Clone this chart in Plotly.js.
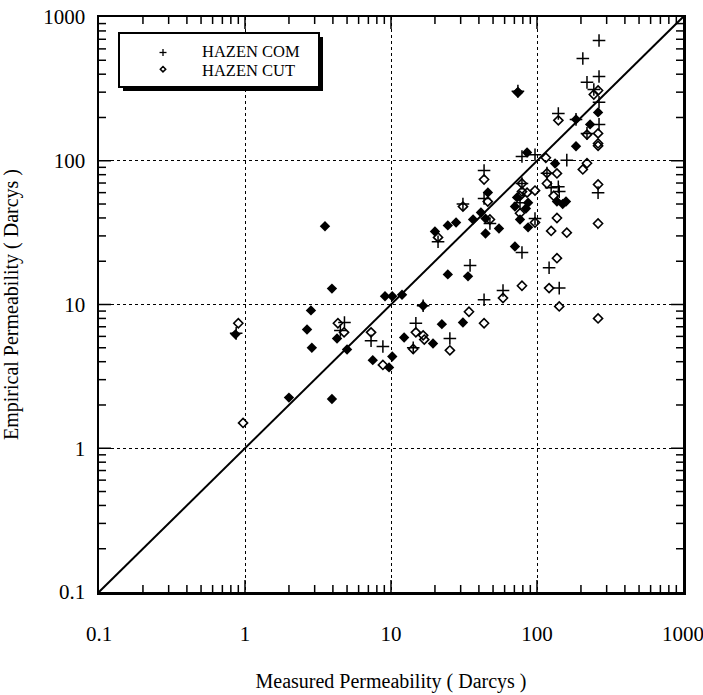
<!DOCTYPE html>
<html>
<head>
<meta charset="utf-8">
<script src="https://cdn.plot.ly/plotly-3.0.1.min.js"></script>
<style>html,body{margin:0;padding:0;background:#fff;}#chart{width:703px;height:695px;}</style>
</head>
<body>
<div id="chart"></div>
<script>
// Series names (legend)
const seriesNames = ['HAZEN COM', 'HAZEN CUT'];

// HAZEN COM (+)
const comX = [0.87, 4.8, 4.5, 7.3, 8.8, 14.8, 14.2, 25.3, 16.6, 43.4, 58.5, 34.8, 78.9, 121, 142,
  21, 31.1, 43.4, 47.6, 96.9, 76.5, 78.9, 43.4, 78.9, 96.9, 160, 117, 125, 140, 142, 262,
  74, 140, 185, 266, 220, 266, 245, 220, 266, 206, 266];
const comY = [6.3, 7.5, 6.6, 5.6, 5.1, 7.4, 5.0, 5.8, 9.8, 10.8, 12.5, 18.7, 23, 18, 13,
  27.3, 50, 54.7, 36.6, 39.6, 51, 69.5, 85.6, 107, 110, 101, 82, 65, 66, 61, 60,
  305, 213, 194, 179, 155, 255, 313, 351, 386, 515, 687];

// HAZEN CUT (open diamond)
const cutX = [0.9, 0.97, 4.33, 4.77, 7.3, 8.8, 14.8, 16.6, 16.9, 14.2, 25.3, 34.2, 43.4, 58.5, 78.9,
  121, 142, 262, 137, 125, 160, 137, 262, 96.9, 76.5, 47.6, 46, 21, 31.1, 43.4, 76.5, 78.9,
  85.5, 96.9, 115, 117, 117, 137, 130, 206, 220, 262, 140, 220, 262, 262, 262, 262, 245, 74, 78.9];
const cutY = [7.4, 1.5, 7.4, 6.4, 6.4, 3.8, 6.4, 6.1, 5.7, 4.9, 4.8, 8.9, 7.4, 11.1, 13.5,
  13, 9.7, 8.0, 21, 32.5, 31.6, 40, 36.6, 37.2, 43.1, 39, 52, 29.3, 48, 74, 57, 61,
  60, 62, 105, 82, 69.5, 81.6, 57, 87, 96, 68.4, 191, 152, 155, 132, 127, 308, 289, 299, 69.5];

// Unlabelled filled diamonds
const fillX = [0.86, 2.0, 2.66, 2.83, 2.87, 3.53, 3.94, 3.94, 4.27, 5.0, 7.5, 9.7, 10.2, 9.1, 10.2,
  11.9, 16.6, 12.3, 19.4, 22.3, 31.1, 24.5, 33.7, 70.6, 20, 24.5, 27.9, 36.5, 41.3, 44.4, 44.4,
  46.1, 54.9, 70.6, 73, 76.5, 84, 86.9, 86.9, 85.5, 133, 137, 150, 158, 185, 185, 231, 262, 74];
const fillY = [6.2, 2.25, 6.7, 9.1, 5.0, 35, 12.9, 2.2, 5.8, 4.86, 4.1, 3.65, 4.35, 11.4, 11.4,
  11.7, 9.8, 5.9, 5.35, 7.3, 7.5, 16.2, 15.7, 25.3, 32.2, 35.5, 37.2, 39, 43.7, 39.6, 31.2,
  60.2, 33.8, 48, 55.6, 39, 46.5, 51, 34.4, 114, 95.7, 52, 50, 52, 126, 194, 179, 217, 299];

// 1:1 line
const lineX = [0.1, 1000];
const lineY = [0.1, 1000];

const tickVals = [0.1, 1, 10, 100, 1000];
const tickText = ['0.1', '1', '10', '100', '1000'];
const majorInner = [1, 10, 100];
const minorVals = [];
[0.1, 1, 10, 100].forEach(d => { for (let k = 2; k <= 9; k++) minorVals.push(k * d); });

const serif = 'Liberation Serif, Times New Roman, serif';

// plot-area geometry (pixels)
const L = 99, T = 17, W = 584, H = 575;
const AX_MIN = 0.1, AX_MAX = 1000, DECADES = 4;

// inward tick marks on all four sides, drawn as line segments on the log axes
function tickTrace(vals, len) {
  const ex = Math.pow(10, DECADES * len / W), ey = Math.pow(10, DECADES * len / H);
  const x = [], y = [];
  vals.forEach(v => {
    x.push(v, v, null); y.push(AX_MIN, AX_MIN * ey, null);
    x.push(v, v, null); y.push(AX_MAX, AX_MAX / ey, null);
    x.push(AX_MIN, AX_MIN * ex, null); y.push(v, v, null);
    x.push(AX_MAX, AX_MAX / ex, null); y.push(v, v, null);
  });
  return {x: x, y: y, mode: 'lines', line: {color: '#000', width: 1.5}, showlegend: false,
          hoverinfo: 'skip', connectgaps: false};
}

const traces = [
  tickTrace(majorInner, 12),
  tickTrace(minorVals, 7),
  {x: lineX, y: lineY, mode: 'lines', line: {color: '#000', width: 2}, showlegend: false, hoverinfo: 'skip'},
  {x: fillX, y: fillY, mode: 'markers', name: 'filled', showlegend: false,
   marker: {symbol: 'diamond', size: 8, color: '#000', line: {width: 0}}},
  {x: cutX, y: cutY, mode: 'markers', name: seriesNames[1], showlegend: false,
   marker: {symbol: 'diamond-open', size: 7, color: '#000', line: {width: 1.6, color: '#000'}}},
  {x: comX, y: comY, mode: 'markers', name: seriesNames[0], showlegend: false,
   marker: {symbol: 'cross-thin-open', size: 9, color: '#000', line: {width: 1.5, color: '#000'}}}
];

function majorAxis(titleText) {
  return {
    type: 'log', range: [-1, 3],
    tickmode: 'array', tickvals: tickVals, ticktext: tickText,
    ticks: '',
    showline: true, linewidth: 2.5, linecolor: '#000', mirror: true,
    showgrid: true, gridcolor: '#000', griddash: 'dot', gridwidth: 1,
    zeroline: false, ticklabeloverflow: 'allow',
    tickfont: {family: serif, size: 21, color: '#000'},
    title: {text: titleText, font: {family: serif, size: 20, color: '#000'}},
    automargin: false
  };
}

const xa = majorAxis('Measured Permeability ( Darcys )');
xa.ticklabelstandoff = 21;
xa.title.standoff = 30;
const ya = majorAxis('Empirical Permeability ( Darcys )');
ya.ticklabelstandoff = 7;
ya.title.standoff = 20;

// pixel -> paper helpers for the hand-drawn legend box
const px = p => (p - L) / W;
const py = p => (T + H - p) / H;
const legFont = {family: serif, size: 16.5, color: '#000'};

const legendShapes = [
  {type: 'rect', xref: 'paper', yref: 'paper', layer: 'above',
   x0: px(123), x1: px(323), y0: py(91), y1: py(37), fillcolor: '#000', line: {width: 0}},
  {type: 'rect', xref: 'paper', yref: 'paper', layer: 'above',
   x0: px(119), x1: px(319), y0: py(87), y1: py(33), fillcolor: '#fff', line: {width: 2, color: '#000'}},
  {type: 'line', xref: 'paper', yref: 'paper', layer: 'above',
   x0: px(159.5), x1: px(166.5), y0: py(52.5), y1: py(52.5), line: {width: 1.3, color: '#000'}},
  {type: 'line', xref: 'paper', yref: 'paper', layer: 'above',
   x0: px(163), x1: px(163), y0: py(49), y1: py(56), line: {width: 1.3, color: '#000'}},
  {type: 'path', xref: 'paper', yref: 'paper', layer: 'above',
   path: `M ${px(163)},${py(66.5)} L ${px(165.7)},${py(69.2)} L ${px(163)},${py(71.9)} L ${px(160.3)},${py(69.2)} Z`,
   line: {width: 1.5, color: '#000'}}
];

const layout = {
  width: 703, height: 695,
  margin: {l: L, r: 703 - L - W, t: T, b: 695 - T - H},
  paper_bgcolor: '#fff', plot_bgcolor: '#fff',
  showlegend: false,
  xaxis: xa, yaxis: ya,
  shapes: legendShapes,
  annotations: [
    {xref: 'paper', yref: 'paper', x: px(201), y: py(51.3), xanchor: 'left', yanchor: 'middle',
     text: seriesNames[0], showarrow: false, font: legFont, borderpad: 0},
    {xref: 'paper', yref: 'paper', x: px(201), y: py(70.8), xanchor: 'left', yanchor: 'middle',
     text: seriesNames[1], showarrow: false, font: legFont, borderpad: 0}
  ]
};

Plotly.newPlot('chart', traces, layout, {staticPlot: true});
</script>
</body>
</html>
